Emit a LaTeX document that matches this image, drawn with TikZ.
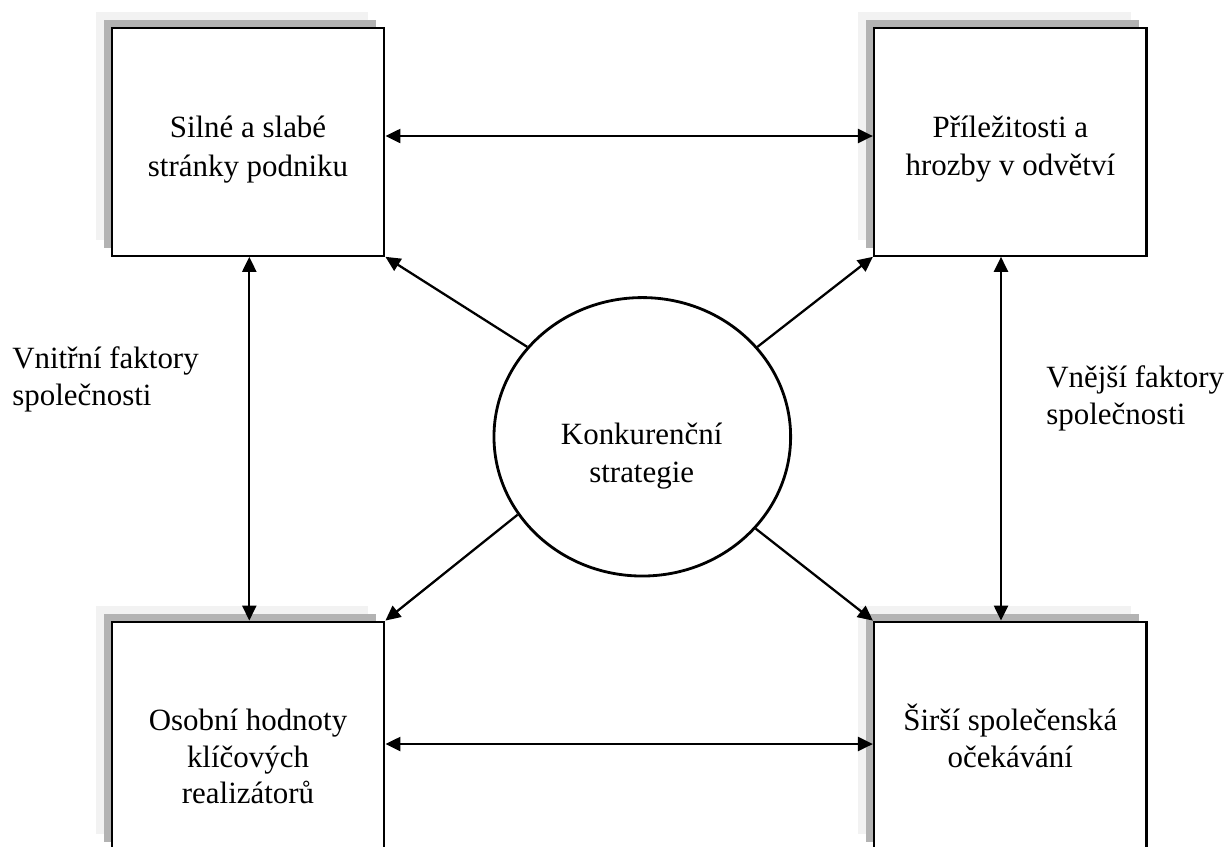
\documentclass[tikz,border=0pt]{standalone}
\usepackage{fontspec}
\setmainfont{Liberation Serif}
\usetikzlibrary{arrows.meta,shapes.geometric,shadows}
\definecolor{shadowdark}{RGB}{179,179,179}
\definecolor{shadowlight}{RGB}{242,242,242}
\begin{document}
\begin{tikzpicture}[x=0.02cm,y=-0.02cm,
  box/.style={draw, line width=1.3pt, fill=white, minimum width=5.452cm, minimum height=4.56cm, inner sep=0pt,
    general shadow={fill=shadowlight, shadow xshift=-0.32cm, shadow yshift=0.32cm},
    general shadow={fill=shadowdark, shadow xshift=-0.16cm, shadow yshift=0.16cm}},
  circ/.style={draw, ellipse, line width=1.6pt, fill=white, minimum width=5.934cm, minimum height=5.57cm, inner sep=0pt},
  txt/.style={font=\fontsize{17.6}{21.5}\selectfont, inner sep=0pt, anchor=base},
  ltxt/.style={txt, anchor=base west},
  arr/.style={line width=1.3pt, -{Triangle[length=0.3cm,width=0.28cm]}},
  dbl/.style={line width=1.3pt, {Triangle[length=0.3cm,width=0.28cm]}-{Triangle[length=0.3cm,width=0.28cm]}}
]
\useasboundingbox (0,0) rectangle (1227,846);
\clip (0,0) rectangle (1227,846);

% boxes
\node[box] (sw) at (248,141.7) {};
\node[box] (ot) at (1010.3,141.7) {};
\node[box] (ph) at (248,735.7) {};
\node[box] (so) at (1010.3,735.7) {};

% central ellipse
\node[circ] (ks) at (642.3,436.8) {};

% texts
\node[txt] (sw1) at (248,137) {Silné a slabé};
\node[txt] (sw2) at (248,176) {stránky podniku};
\node[txt] (ot1) at (1010.3,137) {Příležitosti a};
\node[txt] (ot2) at (1010.3,175) {hrozby v odvětví};
\node[txt] (ph1) at (248,730) {Osobní hodnoty};
\node[txt] (ph2) at (248,767) {klíčových};
\node[txt] (ph3) at (248,803) {realizátorů};
\node[txt] (so1) at (1010.3,730) {Širší společenská};
\node[txt] (so2) at (1010.3,767) {očekávání};
\node[txt] (ks1) at (641.7,444) {Konkurenční};
\node[txt] (ks2) at (641.7,482) {strategie};
\node[ltxt] (vn1) at (12,368) {Vnitřní faktory};
\node[ltxt] (vn2) at (12,405) {společnosti};
\node[ltxt] (ve1) at (1046,387) {Vnější faktory};
\node[ltxt] (ve2) at (1046,424) {společnosti};

% double arrows between boxes
\draw[dbl] (sw.east |- 0,136) -- (ot.west |- 0,136);
\draw[dbl] (ph.east |- 0,744) -- (so.west |- 0,744);
\draw[dbl] (sw.south -| 249.3,0) -- (ph.north -| 249.3,0);
\draw[dbl] (ot.south -| 1001,0) -- (so.north -| 1001,0);

% diagonal arrows from the ellipse
\draw[arr] (ks.142.2) -- (sw.south east);
\draw[arr] (ks.38.5) -- (ot.south west);
\draw[arr] (ks.212.5) -- (ph.north east);
\draw[arr] (ks.321.1) -- (so.north west);
\end{tikzpicture}
\end{document}
